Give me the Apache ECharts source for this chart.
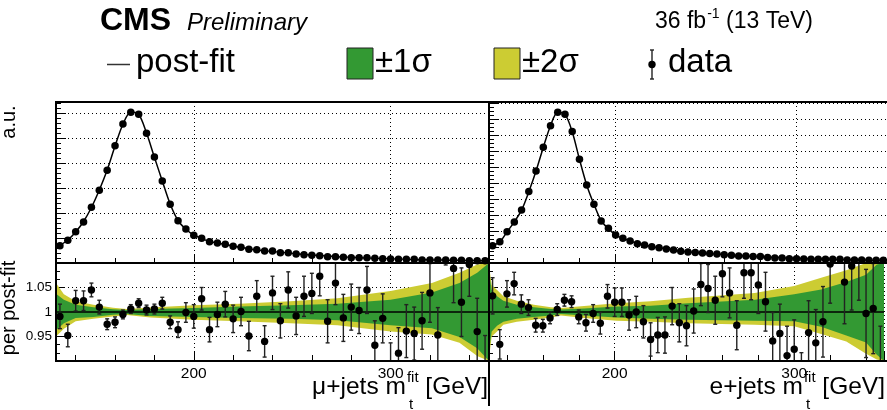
<!DOCTYPE html>
<html><head><meta charset="utf-8">
<script src="https://cdn.jsdelivr.net/npm/echarts@6/dist/echarts.min.js"></script>
<style>html,body{margin:0;padding:0;background:#fff}#c{width:887px;height:410px}</style>
</head><body><div id="c"></div>
<script>
// ---------------- data ----------------
const xMin = 130, xMax = 350, binWidth = 4;
const xTickLabels = ['200', '300'];
const ratioTickLabels = ['0.95', '1', '1.05'];

// mu+jets, top panel (a.u.)
const muData = [0.69,0.91,1.25,1.64,2.23,2.91,3.71,4.69,5.56,6.03,5.95,5.19,4.24,3.28,2.35,1.69,1.36,1.11,0.99,0.85,0.80,0.75,0.67,0.63,0.55,0.53,0.48,0.48,0.41,0.41,0.36,0.33,0.31,0.29,0.25,0.25,0.23,0.21,0.21,0.21,0.19,0.17,0.16,0.15,0.15,0.15,0.12,0.12,0.12,0.12,0.11,0.11,0.09,0.09,0.09];
const muPostFit = [0.70,0.92,1.24,1.66,2.22,2.92,3.72,4.68,5.55,6.04,5.95,5.20,4.23,3.28,2.36,1.70,1.35,1.12,0.98,0.86,0.80,0.74,0.68,0.62,0.57,0.52,0.49,0.46,0.43,0.40,0.37,0.34,0.32,0.30,0.28,0.26,0.24,0.23,0.21,0.20,0.19,0.18,0.17,0.16,0.15,0.14,0.13,0.125,0.12,0.115,0.11,0.105,0.10,0.095,0.09];
// e+jets, top panel (a.u.)
const elData = [1.08,1.33,1.96,2.56,3.31,4.46,5.75,7.23,8.58,9.42,9.29,8.21,6.48,4.88,3.67,2.63,2.17,1.75,1.54,1.38,1.21,1.13,1.02,0.96,0.88,0.81,0.73,0.69,0.66,0.63,0.60,0.56,0.52,0.48,0.44,0.44,0.40,0.40,0.35,0.31,0.31,0.27,0.27,0.25,0.23,0.23,0.23,0.23,0.23,0.19,0.19,0.19,0.17,0.17,0.17];
const elPostFit = [1.09,1.32,1.95,2.57,3.30,4.45,5.75,7.22,8.58,9.42,9.30,8.20,6.48,4.88,3.67,2.64,2.15,1.76,1.53,1.38,1.22,1.12,1.03,0.95,0.88,0.81,0.75,0.70,0.66,0.62,0.59,0.56,0.52,0.49,0.46,0.43,0.41,0.39,0.37,0.35,0.33,0.31,0.29,0.28,0.26,0.25,0.24,0.23,0.22,0.21,0.20,0.19,0.18,0.175,0.17];

// ratios data / post-fit
const muRatio = [0.991,0.952,1.023,1.023,1.045,1.010,0.975,0.979,0.995,1.006,1.018,1.004,1.006,1.018,0.979,0.964,0.999,0.991,1.027,0.964,0.995,1.016,0.986,1.001,0.951,1.032,0.940,1.039,0.982,1.045,0.992,1.032,1.038,1.073,0.981,1.059,0.988,1.010,1.003,1.045,0.932,0.987,0.885,0.916,0.961,0.956,0.982,1.039,0.953,1.160,1.089,1.020,1.097,0.960,0.880];
const muRatioErr = [0.025,0.023,0.021,0.020,0.014,0.014,0.011,0.011,0.009,0.009,0.009,0.010,0.010,0.012,0.013,0.016,0.020,0.024,0.023,0.025,0.025,0.026,0.028,0.029,0.030,0.032,0.032,0.034,0.035,0.037,0.038,0.041,0.041,0.040,0.044,0.044,0.048,0.047,0.047,0.048,0.050,0.050,0.052,0.052,0.054,0.054,0.058,0.060,0.056,0.064,0.070,0.070,0.065,0.068,0.072];
const elRatio = [1.033,0.934,1.037,1.058,1.016,1.009,0.973,0.972,0.988,1.005,1.024,1.021,0.990,0.978,0.997,0.977,1.032,1.020,1.020,0.994,1.000,0.980,0.944,0.953,0.953,1.012,0.978,0.972,1.002,1.056,1.048,1.024,1.078,1.039,0.973,1.080,1.080,1.055,1.021,0.941,0.956,0.911,0.924,0.850,0.958,0.937,0.980,1.098,1.200,1.061,1.094,1.120,0.997,1.007,0.880];
const elRatioErr = [0.037,0.030,0.027,0.023,0.019,0.016,0.014,0.013,0.012,0.012,0.012,0.012,0.014,0.017,0.018,0.022,0.024,0.029,0.029,0.031,0.032,0.033,0.034,0.036,0.037,0.038,0.039,0.041,0.045,0.043,0.049,0.049,0.047,0.051,0.050,0.052,0.055,0.058,0.060,0.058,0.060,0.060,0.060,0.067,0.065,0.068,0.072,0.080,0.080,0.085,0.090,0.096,0.090,0.092,0.091];

// uncertainty bands (relative to 1): knots in GeV
const muBandX = [130,134,140,149,159,166,178,200,223,249,273,300,321,335,344,350];
const mu1Up = [0.037,0.025,0.015,0.0095,0.0055,0.004,0.006,0.008,0.011,0.014,0.017,0.025,0.040,0.059,0.080,0.10];
const mu1Dn = [0.037,0.023,0.012,0.010,0.0055,0.004,0.008,0.010,0.012,0.014,0.017,0.027,0.033,0.051,0.074,0.10];
const mu2Up = [0.059,0.036,0.022,0.015,0.0085,0.006,0.009,0.014,0.017,0.022,0.028,0.043,0.059,0.080,0.097,0.12];
const mu2Dn = [0.050,0.034,0.019,0.014,0.009,0.006,0.011,0.016,0.019,0.023,0.027,0.040,0.046,0.063,0.090,0.12];
const elBandX = [130,131.5,134.5,138,145.5,155,164.5,170,183,201,220,241,278,300,315,329,340,346,350];
const el1Up = [0.08,0.045,0.032,0.023,0.015,0.0095,0.006,0.005,0.007,0.011,0.013,0.018,0.025,0.036,0.046,0.061,0.076,0.097,0.11];
const el1Dn = [0.08,0.04,0.028,0.020,0.014,0.010,0.007,0.004,0.007,0.011,0.014,0.016,0.018,0.019,0.030,0.048,0.062,0.087,0.10];
const el2Up = [0.095,0.055,0.045,0.032,0.023,0.015,0.0095,0.008,0.012,0.018,0.022,0.029,0.039,0.053,0.070,0.085,0.100,0.110,0.13];
const el2Dn = [0.095,0.05,0.040,0.026,0.020,0.016,0.011,0.007,0.012,0.018,0.020,0.023,0.026,0.029,0.045,0.060,0.085,0.097,0.13];

// ---------------- helpers ----------------
const FF = '"Liberation Sans", Arial, Helvetica, sans-serif';
const GREEN = '#339933', YELLOW = '#cccc33';
const centers = muData.map((_, i) => xMin + binWidth * (i + 0.5));
const mctx = document.createElement('canvas').getContext('2d');
function tw(t, font) { mctx.font = font; return mctx.measureText(t).width; }
function fnt(size, pre) { return (pre ? pre + ' ' : '') + size + 'px ' + FF; }
function txt(t, x, y, font, align, va, rot) {
  return { type: 'text', x: x, y: y, rotation: rot || 0, z: 100, silent: true,
    style: { text: t, font: font, fill: '#000', align: align || 'left', verticalAlign: va || 'middle',
             textAlign: align || 'left', textVerticalAlign: va || 'middle' } };
}

function bandSeries(idx, bx, dn, up, color, z) {
  return {
    type: 'custom', xAxisIndex: idx, yAxisIndex: idx, z: z, silent: true, clip: true,
    data: bx.map((x, i) => [x, 1 - dn[i], 1 + up[i]]),
    renderItem: function (params, api) {
      if (params.dataIndex !== 0) return null;
      const cs = params.coordSys;
      const yT = cs.y, yB = cs.y + cs.height;
      const top = [], bot = [];
      for (let i = 0; i < bx.length; i++) {
        const a = api.coord([bx[i], 1 + up[i]]);
        const b = api.coord([bx[i], 1 - dn[i]]);
        top.push([a[0], Math.max(yT, a[1])]);
        bot.push([b[0], Math.min(yB, b[1])]);
      }
      return { type: 'polygon', shape: { points: top.concat(bot.reverse()) }, style: { fill: color } };
    }
  };
}

function ratioPoints(idx, vals, errs) {
  return {
    type: 'custom', xAxisIndex: idx, yAxisIndex: idx, z: 6, silent: true, clip: true,
    data: vals.map((v, i) => [centers[i], v, errs[i]]),
    renderItem: function (params, api) {
      const x = api.value(0), y = api.value(1), e = api.value(2);
      const cs = params.coordSys;
      const yT = cs.y, yB = cs.y + cs.height;
      const c = api.coord([x, y]);
      const t = api.coord([x, y + e])[1], b = api.coord([x, y - e])[1];
      const st = { stroke: '#222', lineWidth: 1.4 };
      const ch = [];
      const t2 = Math.max(t, yT), b2 = Math.min(b, yB);
      if (t2 < b2) ch.push({ type: 'line', shape: { x1: c[0], y1: t2, x2: c[0], y2: b2 }, style: st });
      if (t >= yT && t <= yB) ch.push({ type: 'line', shape: { x1: c[0] - 2, y1: t, x2: c[0] + 2, y2: t }, style: st });
      if (b >= yT && b <= yB) ch.push({ type: 'line', shape: { x1: c[0] - 2, y1: b, x2: c[0] + 2, y2: b }, style: st });
      if (c[1] >= yT && c[1] <= yB) ch.push({ type: 'circle', shape: { cx: c[0], cy: c[1], r: 3.7 }, style: { fill: '#000' } });
      return { type: 'group', children: ch };
    }
  };
}

const dotted = { color: '#000', width: 1, type: [1, 3] };
function xAxisCfg(grid, labels) {
  return {
    type: 'value', gridIndex: grid, min: xMin, max: xMax, splitNumber: 2,
    axisLine: { show: true, lineStyle: { color: '#000', width: 2 } },
    axisTick: { show: true, inside: true, length: labels ? 10 : 9, lineStyle: { color: '#000', width: 1 } },
    minorTick: { show: true, splitNumber: 5, length: labels ? 6 : 5, lineStyle: { color: '#000', width: 1 } },
    splitLine: { show: true, lineStyle: dotted },
    axisLabel: { show: !!labels, fontSize: 15.5, color: '#000', fontFamily: FF, margin: 5,
      formatter: v => (xTickLabels.indexOf(String(Math.round(v))) >= 0 && Math.abs(v - Math.round(v)) < 1e-6 ? String(Math.round(v)) : '') }
  };
}
function yTopCfg(grid, maxV, minorN) {
  return {
    type: 'value', gridIndex: grid, min: 0, max: maxV, interval: 1,
    axisLine: { show: true, lineStyle: { color: '#000', width: 2 } },
    axisTick: { show: true, inside: true, length: 10, lineStyle: { color: '#000', width: 1 } },
    minorTick: { show: true, splitNumber: minorN, length: 5, lineStyle: { color: '#000', width: 1 } },
    splitLine: { show: true, lineStyle: dotted },
    axisLabel: { show: false }
  };
}
function yRatioCfg(grid, labels) {
  return {
    type: 'value', gridIndex: grid, min: 0.9, max: 1.1, interval: 0.05,
    axisLine: { show: true, lineStyle: { color: '#000', width: 2 } },
    axisTick: { show: true, inside: true, length: 8, lineStyle: { color: '#000', width: 1 } },
    minorTick: { show: true, splitNumber: 3, length: 4, lineStyle: { color: '#000', width: 1 } },
    splitLine: { show: true, lineStyle: dotted },
    axisLabel: { show: labels, fontSize: 13.5, color: '#000', fontFamily: FF, margin: 4,
      formatter: v => { const s = String(Math.round(v * 100) / 100); return ratioTickLabels.indexOf(s) >= 0 ? s : ''; } }
  };
}

// layout
const L = { lx: 56, lw: 433, rx: 489, rw: 399, topY: 102, topH: 161, ratY: 263, ratH: 98 };

// ---------------- header / titles ----------------
const g = [];
g.push(txt('CMS', 100, 21, fnt(32, 'bold')));
g.push(txt('Preliminary', 187, 23, fnt(24, 'italic')));
{
  const f = fnt(23), fs = fnt(14);
  let x = 655;
  g.push(txt('36 fb', x, 22, f)); x += tw('36 fb', f);
  g.push(txt('-1', x + 1, 14, fs)); x += tw('-1', fs) + 1;
  g.push(txt(' (13 TeV)', x, 22, f));
}
// legend row
const lf = fnt(33);
g.push({ type: 'line', z: 100, shape: { x1: 107, y1: 64.5, x2: 130, y2: 64.5 }, style: { stroke: '#333', lineWidth: 1.5 } });
g.push(txt('post-fit', 136, 63, lf));
g.push({ type: 'rect', z: 100, shape: { x: 347, y: 48, width: 26, height: 31 }, style: { fill: GREEN, stroke: '#222', lineWidth: 1 } });
g.push(txt('\u00b11\u03c3', 375, 63, lf));
g.push({ type: 'rect', z: 100, shape: { x: 494, y: 48, width: 26, height: 31 }, style: { fill: YELLOW, stroke: '#222', lineWidth: 1 } });
g.push(txt('\u00b12\u03c3', 522, 63, lf));
g.push({ type: 'line', z: 100, shape: { x1: 652, y1: 50, x2: 652, y2: 79 }, style: { stroke: '#222', lineWidth: 1.4 } });
g.push({ type: 'line', z: 100, shape: { x1: 650, y1: 50, x2: 654, y2: 50 }, style: { stroke: '#222', lineWidth: 1.4 } });
g.push({ type: 'line', z: 100, shape: { x1: 650, y1: 79, x2: 654, y2: 79 }, style: { stroke: '#222', lineWidth: 1.4 } });
g.push({ type: 'circle', z: 100, shape: { cx: 652, cy: 64.5, r: 3.7 }, style: { fill: '#000' } });
g.push(txt('data', 668, 63, lf));

// y titles
g.push(txt('a.u.', 9, 122, fnt(20), 'center', 'middle', Math.PI / 2));
g.push(txt('per post-fit', 9, 308, fnt(20), 'center', 'middle', Math.PI / 2));

// x titles
function xTitle(prefix, rightX) {
  const f = fnt(24.5), fs = fnt(15);
  const wG = tw('[GeV]', f), wSp = tw(' ', f), wFit = tw('fit', fs);
  const xm = rightX - wG - wSp - wFit - 1;
  g.push(txt('[GeV]', rightX, 387, f, 'right'));
  g.push(txt(prefix + ' m', xm, 387, f, 'right'));
  g.push(txt('fit', xm + 1, 378, fs, 'left'));
  g.push(txt('t', xm + 3, 405, fs, 'left'));
}
xTitle('\u03bc+jets', 488);
xTitle('e+jets', 885);

// frames (drawn above the series)
[[L.lx, L.topY, L.lw, L.topH], [L.lx, L.ratY, L.lw, L.ratH], [L.rx, L.topY, L.rw, L.topH], [L.rx, L.ratY, L.rw, L.ratH]].forEach(r => {
  g.push({ type: 'rect', z: 90, silent: true, shape: { x: r[0], y: r[1], width: r[2], height: r[3] }, style: { fill: 'none', stroke: '#000', lineWidth: 2 } });
});
g.push({ type: 'line', z: 90, shape: { x1: L.rx, y1: L.topY, x2: L.rx, y2: 406 }, style: { stroke: '#000', lineWidth: 2 } });

// ---------------- chart ----------------
const chart = echarts.init(document.getElementById('c'), null, { renderer: 'canvas' });
const option = {
  animation: false,
  backgroundColor: '#fff',
  textStyle: { fontFamily: FF },
  grid: [
    { left: L.lx, top: L.topY, width: L.lw, height: L.topH },
    { left: L.lx, top: L.ratY, width: L.lw, height: L.ratH },
    { left: L.rx, top: L.topY, width: L.rw, height: L.topH },
    { left: L.rx, top: L.ratY, width: L.rw, height: L.ratH }
  ],
  xAxis: [xAxisCfg(0, false), xAxisCfg(1, true), xAxisCfg(2, false), xAxisCfg(3, true)],
  yAxis: [yTopCfg(0, 6.44, 5), yRatioCfg(1, true), yTopCfg(2, 10.06, 4), yRatioCfg(3, false)],
  series: [
    { type: 'line', xAxisIndex: 0, yAxisIndex: 0, data: centers.map((x, i) => [x, muPostFit[i]]), smooth: 0.3, showSymbol: false, lineStyle: { color: '#000', width: 1.5 }, z: 3, silent: true },
    { type: 'scatter', xAxisIndex: 0, yAxisIndex: 0, data: centers.map((x, i) => [x, muData[i]]), symbolSize: 7.5, itemStyle: { color: '#000', opacity: 1 }, z: 4, silent: true },
    { type: 'line', xAxisIndex: 2, yAxisIndex: 2, data: centers.map((x, i) => [x, elPostFit[i]]), smooth: 0.3, showSymbol: false, lineStyle: { color: '#000', width: 1.5 }, z: 3, silent: true },
    { type: 'scatter', xAxisIndex: 2, yAxisIndex: 2, data: centers.map((x, i) => [x, elData[i]]), symbolSize: 7.5, itemStyle: { color: '#000', opacity: 1 }, z: 4, silent: true },
    bandSeries(1, muBandX, mu2Dn, mu2Up, YELLOW, 2),
    bandSeries(1, muBandX, mu1Dn, mu1Up, GREEN, 3),
    { type: 'line', xAxisIndex: 1, yAxisIndex: 1, data: [[xMin, 1], [xMax, 1]], showSymbol: false, lineStyle: { color: '#000', width: 1.5 }, z: 4, silent: true },
    ratioPoints(1, muRatio, muRatioErr),
    bandSeries(3, elBandX, el2Dn, el2Up, YELLOW, 2),
    bandSeries(3, elBandX, el1Dn, el1Up, GREEN, 3),
    { type: 'line', xAxisIndex: 3, yAxisIndex: 3, data: [[xMin, 1], [xMax, 1]], showSymbol: false, lineStyle: { color: '#000', width: 1.5 }, z: 4, silent: true },
    ratioPoints(3, elRatio, elRatioErr)
  ],
  graphic: { elements: g }
};
chart.setOption(option);
</script>
</body></html>
